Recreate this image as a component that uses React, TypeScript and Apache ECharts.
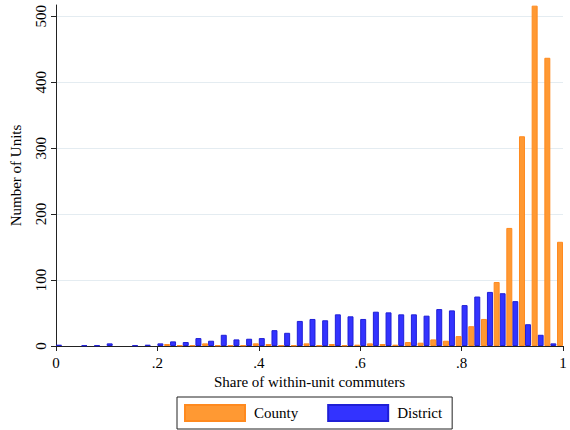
import React, { useEffect, useRef } from "react";
import * as echarts from "echarts";

// Bin starts (width 0.025) for the histogram
const binStarts: number[] = Array.from({ length: 40 }, (_, i) => +(i * 0.025).toFixed(3));

const countyValues: number[] = [
  0, 0, 0, 0, 0, 0, 0, 0, 3, 1,
  1, 4, 1, 1, 1, 4, 3, 1, 1, 4,
  1, 3, 1, 2, 4, 3, 2, 6, 5, 10,
  8, 15, 30, 41, 97, 179, 318, 516, 437, 158,
];

const districtValues: number[] = [
  2, 0, 1, 1, 4, 0, 1, 2, 4, 7,
  6, 12, 8, 17, 10, 11, 12, 24, 20, 38,
  41, 39, 48, 45, 41, 52, 51, 48, 48, 46,
  56, 54, 62, 75, 82, 80, 68, 33, 17, 4,
];

const xTickValues: number[] = [0, 0.2, 0.4, 0.6, 0.8, 1];
const xTickLabels: string[] = ["0", ".2", ".4", ".6", ".8", "1"];
const yTickValues: number[] = [0, 100, 200, 300, 400, 500];

const FONT = "Liberation Serif";

const toBarData = (arr: number[]) => arr.map((v) => (v === 0 ? "-" : v));

export default function App() {
  const ref = useRef<HTMLDivElement>(null);
  useEffect(() => {
    if (!ref.current) return;
    const chart = echarts.init(ref.current, null, { renderer: "svg" });
    chart.setOption({
      animation: false,
      backgroundColor: "#ffffff",
      textStyle: { fontFamily: FONT, color: "#000" },
      grid: { left: 55, right: 7, top: 5, bottom: 84, containLabel: false },
      legend: {
        left: 177,
        top: 397,
        orient: "horizontal",
        itemWidth: 60,
        itemHeight: 16,
        itemGap: 29,
        borderColor: "#222",
        borderWidth: 1,
        padding: [7, 10, 7, 7],
        textStyle: { fontFamily: FONT, fontSize: 15, color: "#000", padding: [0, 0, 0, 4] },
        data: [
          { name: "County", icon: "rect" },
          { name: "District", icon: "rect" },
        ],
      },
      xAxis: [
        {
          type: "category",
          data: binStarts.map((v) => String(v)),
          show: false,
          boundaryGap: true,
        },
        {
          type: "value",
          min: 0,
          max: 1,
          interval: 0.2,
          position: "bottom",
          axisLine: { show: true, onZero: false, lineStyle: { color: "#222", width: 1 } },
          axisTick: { show: true, length: 5, lineStyle: { color: "#222" } },
          splitLine: { show: false },
          axisLabel: {
            margin: 9,
            fontFamily: FONT,
            fontSize: 15,
            color: "#000",
            formatter: (v: number) => {
              const idx = xTickValues.findIndex((t) => Math.abs(t - v) < 1e-6);
              return idx >= 0 ? xTickLabels[idx] : "";
            },
          },
          name: "Share of within-unit commuters",
          nameLocation: "middle",
          nameGap: 28,
          nameTextStyle: { fontFamily: FONT, fontSize: 15, color: "#000" },
        },
      ],
      yAxis: {
        type: "value",
        min: 0,
        max: 517,
        interval: 100,
        axisLine: { show: true, lineStyle: { color: "#222", width: 1 } },
        axisTick: { show: true, length: 5, lineStyle: { color: "#222" }, customValues: yTickValues },
        axisLabel: {
          customValues: yTickValues,
          rotate: 90,
          margin: 8,
          fontFamily: FONT,
          fontSize: 15,
          color: "#000",
        },
        splitLine: { show: true, lineStyle: { color: "#e4ecf1", width: 1 } },
        name: "Number of Units",
        nameLocation: "middle",
        nameGap: 33,
        nameTextStyle: { fontFamily: FONT, fontSize: 15, color: "#000" },
      },
      series: [
        {
          name: "District",
          type: "bar",
          xAxisIndex: 0,
          data: toBarData(districtValues),
          barCategoryGap: "0%",
          barGap: "12%",
          itemStyle: { color: "#3333ff", borderColor: "#1f1fd6", borderWidth: 1 },
        },
        {
          name: "County",
          type: "bar",
          xAxisIndex: 0,
          data: toBarData(countyValues),
          barCategoryGap: "0%",
          barGap: "12%",
          itemStyle: { color: "#ff9933", borderColor: "#ff8a1f", borderWidth: 1 },
        },
      ],
    });
    return () => chart.dispose();
  }, []);
  return (
    <div
      ref={ref}
      style={{ position: "fixed", left: 0, top: 0, width: 570, height: 430, background: "#fff" }}
    />
  );
}
